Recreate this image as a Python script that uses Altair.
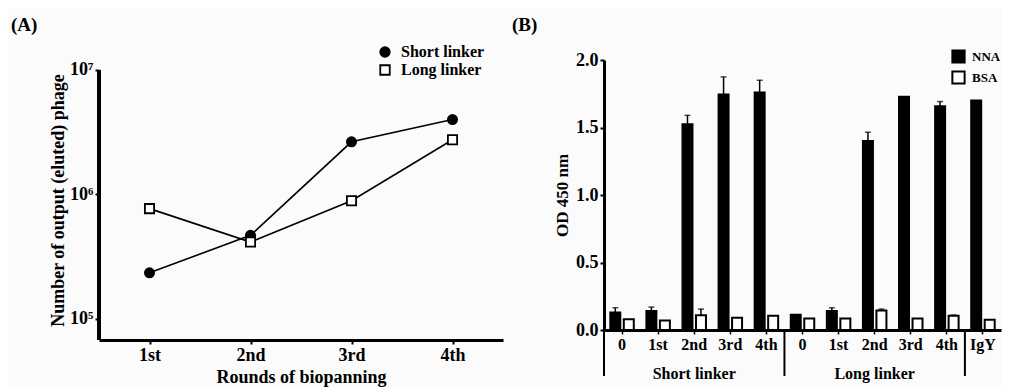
import altair as alt
import pandas as pd

# ---------------- Panel A data ----------------
rounds = ["1st", "2nd", "3rd", "4th"]
short_linker = [2.35e5, 4.7e5, 2.65e6, 4.0e6]
long_linker = [7.7e5, 4.15e5, 8.9e5, 2.75e6]
series_names = ["Short linker", "Long linker"]
a_ticks = [1e5, 1e6, 1e7]

# ---------------- Panel B data ----------------
b_keys = ["S|0", "S|1st", "S|2nd", "S|3rd", "S|4th",
          "L|0", "L|1st", "L|2nd", "L|3rd", "L|4th", "C|IgY"]
antigens = ["NNA", "BSA"]
nna = [0.13, 0.14, 1.525, 1.745, 1.76, 0.113, 0.14, 1.40, 1.728, 1.657, 1.70]
nna_err = [0.035, 0.03, 0.065, 0.13, 0.09, 0.0, 0.025, 0.065, 0.0, 0.035, 0.0]
bsa = [0.08, 0.07, 0.11, 0.09, 0.105, 0.085, 0.086, 0.145, 0.086, 0.105, 0.076]
bsa_err = [0.0, 0.0, 0.045, 0.0, 0.0, 0.0, 0.0, 0.01, 0.0, 0.006, 0.0]
group_keys = ["S|2nd", "L|2nd"]
group_labels = ["Short linker", "Long linker"]
separator_keys = ["S|0", "L|0", "C|IgY"]

FONT = "Liberation Serif"

# ---------------- Panel A ----------------
dfa = pd.DataFrame({
    "round": rounds * 2,
    "phage": short_linker + long_linker,
    "series": [series_names[0]] * len(rounds) + [series_names[1]] * len(rounds),
})

A_LOW, A_HIGH = 67800, 1.203e7

xa = alt.X("round:N", sort=rounds,
           scale=alt.Scale(type="point", padding=0.5),
           axis=alt.Axis(title="Rounds of biopanning", labelAngle=0,
                         domainWidth=3, tickSize=4, tickWidth=2,
                         labelFontSize=18, titleFontSize=18,
                         labelPadding=2, titlePadding=4))
ya = alt.Y("phage:Q",
           scale=alt.Scale(type="log", domain=[A_LOW, A_HIGH], nice=False),
           axis=alt.Axis(values=a_ticks, domain=False,
                         labelExpr="datum.value >= 9999999 ? '10⁷' : (datum.value >= 999999 ? '10⁶' : '10⁵')",
                         title="Number of output (eluted) phage",
                         tickSize=4, tickWidth=2,
                         labelFontSize=18, titleFontSize=18,
                         labelPadding=2, titlePadding=2))

y_line_a = alt.Chart(dfa).mark_rule(color="black", strokeWidth=3).encode(
    x=alt.value(0), y=alt.datum(a_ticks[-1]), y2=alt.datum(A_LOW))

lines_a = alt.Chart(dfa).mark_line(color="black", strokeWidth=1.6).encode(
    x=xa, y=ya, detail="series:N")

legend_a = alt.Legend(title=None, orient="none", legendX=278, legendY=-16,
                      labelFont=FONT, labelFontSize=16, labelFontWeight="bold",
                      symbolStrokeColor="black", symbolStrokeWidth=1.8,
                      symbolSize=90, rowPadding=0, labelOffset=8)
points_a = alt.Chart(dfa).mark_point(filled=False, size=85,
                                     strokeWidth=1.8, opacity=1).encode(
    x=xa, y=ya,
    shape=alt.Shape("series:N", scale=alt.Scale(domain=series_names, range=["circle", "square"]),
                    legend=legend_a),
    fill=alt.Fill("series:N", scale=alt.Scale(domain=series_names, range=["black", "white"]),
                  legend=legend_a),
    stroke=alt.Stroke("series:N", scale=alt.Scale(domain=series_names, range=["black", "black"]),
                      legend=legend_a),
)

panel_a = alt.layer(lines_a, y_line_a, points_a).properties(
    width=404, height=280,
    title=alt.Title("(A)", anchor="start", frame="group", dx=-88, offset=9,
                    fontSize=19, font=FONT, fontWeight="bold"))

# ---------------- Panel B ----------------
rows = []
for k, v, e in zip(b_keys, nna, nna_err):
    rows.append({"key": k, "antigen": "NNA", "od": v, "top": v + e, "err": e})
for k, v, e in zip(b_keys, bsa, bsa_err):
    rows.append({"key": k, "antigen": "BSA", "od": v, "top": v + e, "err": e})
dfb = pd.DataFrame(rows)
dfg = pd.DataFrame({"key": group_keys, "label": group_labels})
dfs = pd.DataFrame({"key": separator_keys})

xb_scale = alt.Scale(domain=b_keys, paddingInner=0, paddingOuter=0)
xb_axis = alt.Axis(title=None, labelAngle=0, labelExpr="split(datum.value, '|')[1]",
                   domainWidth=3, tickSize=4, tickWidth=1.5,
                   labelFontSize=16, labelPadding=2)
xoff = alt.XOffset("antigen:N", scale=alt.Scale(domain=antigens, paddingInner=0.26, paddingOuter=0.467))
yb = alt.Y("od:Q", scale=alt.Scale(domain=[0, 2]),
           axis=alt.Axis(values=[0, 0.5, 1.0, 1.5, 2.0], format=".1f",
                         title="OD 450 nm", domainWidth=3, tickSize=4, tickWidth=2,
                         labelFontSize=18, titleFontSize=17,
                         labelPadding=2, titlePadding=4))

legend_b = alt.Legend(title=None, orient="none", legendX=347, legendY=-11,
                      symbolType="square", symbolSize=150, symbolStrokeColor="black",
                      symbolStrokeWidth=2, labelFont=FONT, labelFontSize=13,
                      labelFontWeight="bold", rowPadding=0, labelOffset=6)

bars = alt.Chart(dfb).mark_bar(stroke="black", strokeWidth=2).encode(
    x=alt.X("key:N", sort=b_keys, scale=xb_scale, axis=xb_axis),
    xOffset=xoff,
    y=yb,
    fill=alt.Fill("antigen:N", scale=alt.Scale(domain=antigens, range=["black", "white"]),
                  legend=legend_b),
)
err_rule = alt.Chart(dfb).transform_filter("datum.err > 0").mark_rule(
    color="black", strokeWidth=1.5).encode(
    x=alt.X("key:N", sort=b_keys), xOffset=xoff, y="od:Q", y2="top:Q")
err_cap = alt.Chart(dfb).transform_filter("datum.err > 0").mark_tick(
    color="black", thickness=1.5, size=6, orient="horizontal").encode(
    x=alt.X("key:N", sort=b_keys), xOffset=xoff, y="top:Q")
group_text = alt.Chart(dfg).mark_text(font=FONT, fontSize=16, fontWeight="bold",
                                      baseline="middle", color="black").encode(
    x=alt.X("key:N", sort=b_keys), y=alt.value(314), text="label:N")
separators = alt.Chart(dfs).mark_rule(color="black", strokeWidth=2).encode(
    x=alt.X("key:N", sort=b_keys, bandPosition=0), y=alt.value(270), y2=alt.value(316))

panel_b = alt.layer(bars, err_rule, err_cap, group_text, separators).properties(
    width=397, height=270,
    title=alt.Title("(B)", anchor="start", frame="group", dx=-92, offset=14,
                    fontSize=19, font=FONT, fontWeight="bold"))

chart = alt.hconcat(panel_a, panel_b, spacing=7).resolve_scale(
    x="independent", y="independent", fill="independent", shape="independent",
    stroke="independent"
).resolve_legend(fill="independent", shape="independent", stroke="independent").configure(
    font=FONT, background="#fbfbfb",
    padding={"top": 7, "left": 2, "right": 0, "bottom": 0}
).configure_view(stroke="transparent").configure_axis(
    labelFont=FONT, titleFont=FONT, labelFontWeight="bold", titleFontWeight="bold",
    labelColor="black", titleColor="black", domainColor="black", tickColor="black",
    grid=False
)

chart.save("out.html", embed_options={"renderer": "svg", "actions": False})
